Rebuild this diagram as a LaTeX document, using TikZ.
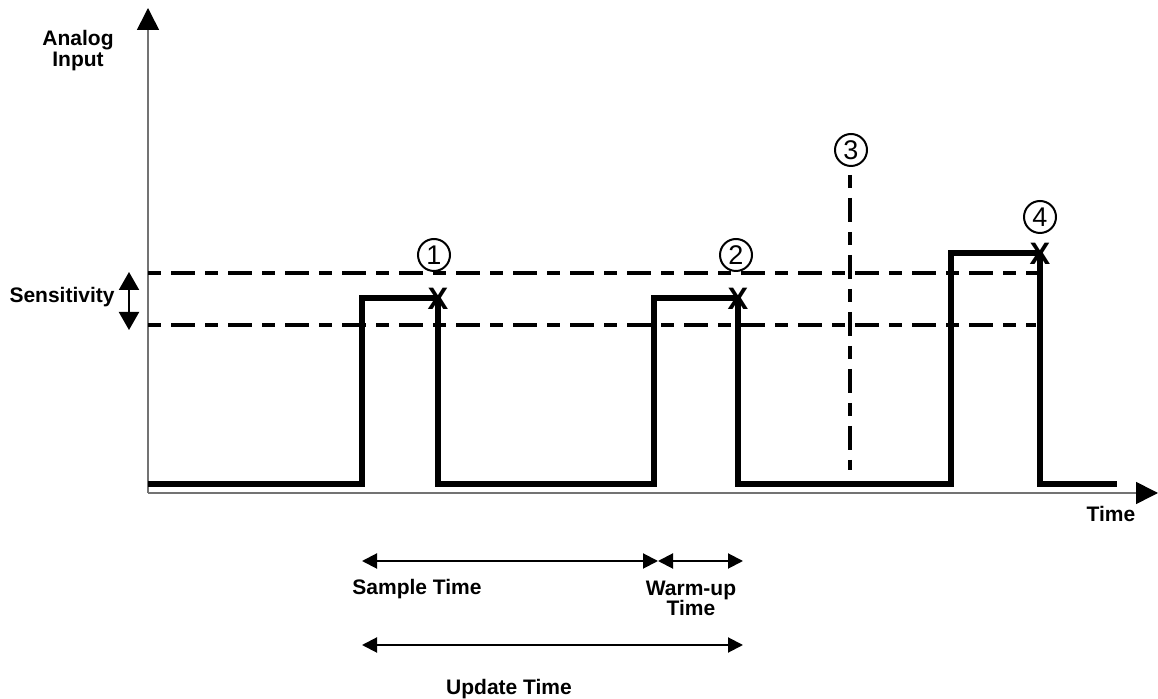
\documentclass[tikz,border=0pt]{standalone}
\usepackage{fontspec}
\setmainfont{Liberation Sans}
\usetikzlibrary{arrows.meta}

\begin{document}
\begin{tikzpicture}[x=0.5pt,y=-0.5pt,
  lbl/.style={font=\fontsize{10.5}{10}\selectfont\bfseries,align=center,inner sep=0pt},
  num/.style={circle,draw,line width=1pt,inner sep=0pt,minimum size=16pt,font=\fontsize{13.5}{13.5}\selectfont},
  xmark/.style={font=\fontsize{15.5}{15.5}\selectfont\bfseries,inner sep=0pt},
  level/.style={line width=1.6pt,dash pattern=on 6.5pt off 5pt on 12pt off 5pt},
  signal/.style={line width=2.6pt,line join=miter},
  span/.style={line width=1pt,{Triangle[length=7.5pt,width=7.5pt]}-{Triangle[length=7.5pt,width=7.5pt]}},
  axis/.style={line width=0.8pt,black!55,-{Triangle[length=11pt,width=11pt,color=black]}}]
  \useasboundingbox (0,0) rectangle (1158,699);
  % axes
  \coordinate (o) at (148,493);
  \coordinate (ytop) at (148,8);
  \coordinate (xend) at (1158,493);
  \draw[axis] (o) -- (ytop);
  \draw[axis] (o) -- (xend);
  \node[lbl,font=\fontsize{10.5}{8.5}\selectfont\bfseries] (ain) at (78,51) {Analog\\Input};
  \node[lbl] (time) at (1111,514) {Time};
  % sensitivity band
  \draw[level] (148,273) -- (1040,273);
  \draw[level] (148,325) -- (1036,325);
  \draw[level] (850,175) -- (850,470);
  \coordinate (s1) at (129,272);
  \coordinate (s2) at (129,330);
  \draw[line width=1pt,{Triangle[length=9pt,width=10pt]}-{Triangle[length=9pt,width=10pt]}] (s1) -- (s2);
  \node[lbl,anchor=east] (sens) at (115,297) {Sensitivity};
  % input signal
  \draw[signal] (148,484) -- (362,484) -- (362,298) -- (438,298) -- (438,484)
    -- (654,484) -- (654,298) -- (738,298) -- (738,484)
    -- (951,484) -- (951,253) -- (1040,253) -- (1040,484) -- (1117,484);
  \node[xmark] (x1) at (438,299) {X};
  \node[xmark] (x2) at (738,299) {X};
  \node[xmark] (x4) at (1040,254) {X};
  \node[num] (n1) at (434,255) {1};
  \node[num] (n2) at (736,255) {2};
  \node[num] (n3) at (851,150) {3};
  \node[num] (n4) at (1040,217) {4};
  % timing spans
  \coordinate (a0) at (362,561);
  \coordinate (a1) at (658,561);
  \coordinate (a2) at (743,561);
  \coordinate (b0) at (362,645);
  \coordinate (b1) at (743,645);
  \draw[span] (a0) -- (a1);
  \draw[span] (a1) -- (a2);
  \draw[span] (b0) -- (b1);
  \node[lbl] (sample) at (417,589) {Sample Time};
  \node[lbl] (warm) at (691,598) {Warm-up\\Time};
  \node[lbl] (update) at (509,689) {Update Time};
\end{tikzpicture}
\end{document}
